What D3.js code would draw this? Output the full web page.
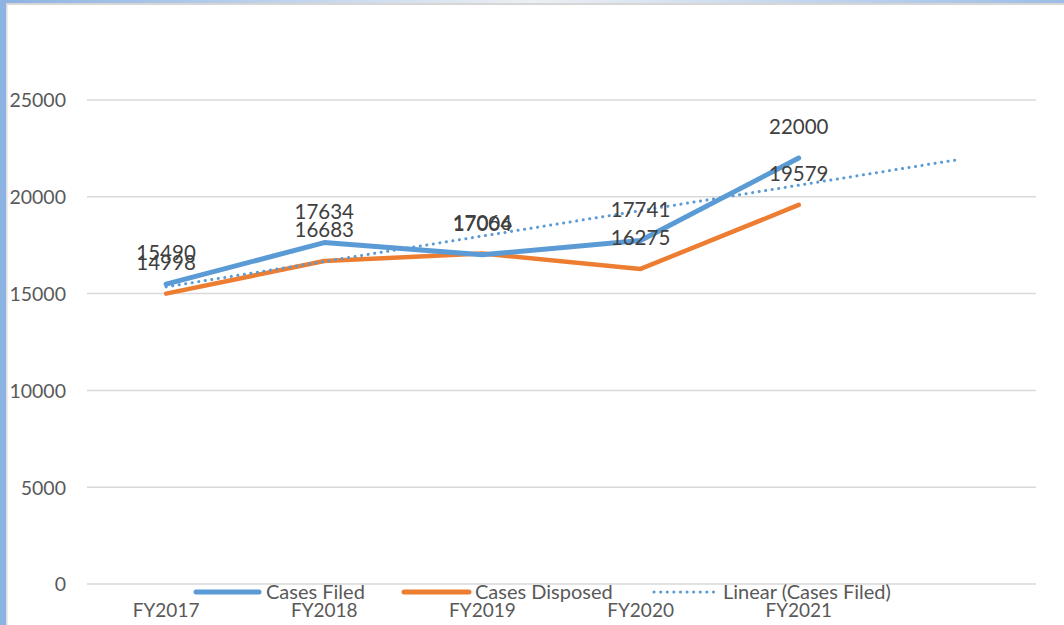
<!DOCTYPE html>
<html><head><meta charset="utf-8">
<script src="https://cdn.jsdelivr.net/npm/d3@7"></script>
<style>
html,body{margin:0;padding:0;background:#fff;overflow:hidden}
svg{display:block}
</style></head>
<body>
<svg id="c" width="1064" height="625"></svg>
<script>
const categories = ["FY2017","FY2018","FY2019","FY2020","FY2021"];
const casesFiled = [15490,17634,17004,17741,22000];
const casesDisposed = [14998,16683,17066,16275,19579];
// Linear trendline of Cases Filed: start at FY2017, forecast one period forward
const trendPoints = [[0,15348],[5,21912]];
const yTicks = [0,5000,10000,15000,20000,25000];
const legendLabels = ["Cases Filed","Cases Disposed","Linear (Cases Filed)"];

const svg = d3.select("#c");
const font = "Lato, 'Open Sans', sans-serif";

// frame decorations
const defs = svg.append("defs");
const g1 = defs.append("linearGradient").attr("id","topg").attr("x1","0").attr("x2","1");
g1.append("stop").attr("offset","0").attr("stop-color","#8db3e2");
g1.append("stop").attr("offset","0.5").attr("stop-color","#eceff3");
g1.append("stop").attr("offset","1").attr("stop-color","#9dbde6");
svg.append("rect").attr("x",0).attr("y",0).attr("width",1064).attr("height",4).attr("fill","url(#topg)");
svg.append("rect").attr("x",0).attr("y",3).attr("width",1064).attr("height",2).attr("fill","#d6d6d6");
svg.append("rect").attr("x",0).attr("y",0).attr("width",6).attr("height",625).attr("fill","#8db3e2");
svg.append("rect").attr("x",6).attr("y",5).attr("width",1.5).attr("height",620).attr("fill","#dcdcdc");

const x = d3.scaleBand().domain(d3.range(6)).range([87,1036]);
const xc = i => x(i) + x.bandwidth()/2;
const y = d3.scaleLinear().domain([0,25000]).range([584,100]);

// gridlines
svg.append("g").selectAll("line").data(yTicks).join("line")
  .attr("x1",87).attr("x2",1036)
  .attr("y1",d=>y(d)).attr("y2",d=>y(d))
  .attr("stroke","#d9d9d9").attr("stroke-width",1.5);

// y axis labels
const yAxis = d3.axisLeft(y).tickValues(yTicks).tickSize(0).tickPadding(0).tickFormat(d=>String(d));
const ya = svg.append("g").attr("transform","translate(66,0)").call(yAxis);
ya.select(".domain").remove();
ya.selectAll("text").attr("font-family",font).attr("font-size",19.5).attr("fill","#595959").attr("dy","0.35em");

// x axis labels
const xAxis = d3.axisBottom(x).tickValues(d3.range(categories.length)).tickSize(0).tickPadding(0).tickFormat(i=>categories[i]);
const xa = svg.append("g").attr("transform","translate(0,603)").call(xAxis);
xa.select(".domain").remove();
xa.selectAll("text").attr("font-family",font).attr("font-size",19).attr("fill","#595959").attr("dy","0.71em");

const line = d3.line().x((d,i)=>xc(i)).y(d=>y(d));

svg.append("path").datum(casesDisposed).attr("d",line)
  .attr("fill","none").attr("stroke","#ed7d31").attr("stroke-width",4.5).attr("stroke-linecap","round").attr("stroke-linejoin","round");
svg.append("path").datum(casesFiled).attr("d",line)
  .attr("fill","none").attr("stroke","#5b9bd5").attr("stroke-width",5).attr("stroke-linecap","round").attr("stroke-linejoin","round");

// trendline
svg.append("path").datum(trendPoints)
  .attr("d",d3.line().x(d=>xc(d[0])).y(d=>y(d[1])))
  .attr("fill","none").attr("stroke","#5b9bd5").attr("stroke-width",3)
  .attr("stroke-dasharray","0.1 6.5").attr("stroke-linecap","round");

// data labels
function labels(arr){
  svg.append("g").selectAll("text").data(arr).join("text")
    .attr("x",(d,i)=>xc(i)).attr("y",d=>y(d)-24)
    .attr("text-anchor","middle").attr("font-family",font).attr("font-size",20.5)
    .attr("fill","#404040").text(d=>d);
}
labels(casesDisposed);
labels(casesFiled);

// legend
const leg = svg.append("g").attr("font-family",font).attr("font-size",20).attr("fill","#595959");
const items = [
  {x1:196,x2:259,tx:266,color:"#5b9bd5",w:5,dash:null},
  {x1:404,x2:469,tx:475,color:"#ed7d31",w:5,dash:null},
  {x1:654,x2:714,tx:723,color:"#5b9bd5",w:3,dash:"0.1 6.5"}
];
items.forEach((it,i)=>{
  leg.append("line").attr("x1",it.x1).attr("x2",it.x2).attr("y1",592).attr("y2",592)
    .attr("stroke",it.color).attr("stroke-width",it.w).attr("stroke-linecap","round")
    .attr("stroke-dasharray",it.dash);
  leg.append("text").attr("x",it.tx).attr("y",592).attr("dy","0.35em").text(legendLabels[i]);
});
</script>
</body></html>
